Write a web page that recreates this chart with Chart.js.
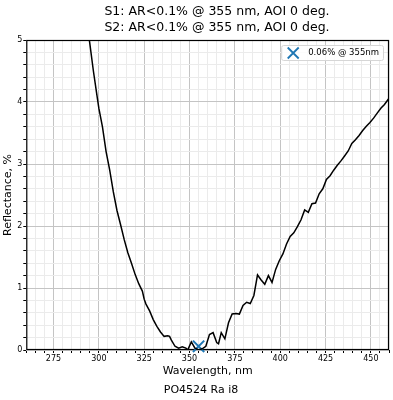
<!DOCTYPE html>
<html>
<head>
<meta charset="utf-8">
<script src="https://cdn.jsdelivr.net/npm/chart.js@4"></script>
<style>
    html, body { margin: 0; padding: 0; background: #fff; overflow: hidden; }
    canvas { display: block; }
</style>
</head>
<body>
<!-- a little wider than the window so the plot reaches the right edge like the original -->
<canvas id="chart" width="399" height="400"></canvas>
<script>
// Chart data
const wavelengths = [
    290, 293, 295, 297, 299, 300, 302, 304, 306, 308, 310, 312, 314, 316, 318, 320, 322, 324, 325, 326,
    328, 330, 332, 334, 336, 338, 339, 340, 342, 344, 346, 348, 349, 351, 353, 355, 357, 359, 361, 363,
    365, 366, 367.5, 369.5, 371.5, 373.5, 375.5, 377.5, 379.5, 381.5, 383.5, 385.5, 387.5, 389.5, 391.5, 393.5, 395.5, 397.5, 399.5, 401.5,
    403.5, 405.5, 407.5, 409.5, 411.5, 413.5, 415.5, 417.5, 419.5, 421.5, 423.5, 425.5, 427.5, 429.5, 431.5, 433.5, 435.5, 437.5, 439.5, 441.5,
    443.5, 445.5, 447.5, 449.5, 451.5, 453.5, 455.5, 457.5, 459.5, 461
];
const reflectance = [
    6.3, 5.35, 4.95, 4.5, 4.1, 3.9, 3.6, 3.2, 2.9, 2.55, 2.25, 2.02, 1.78, 1.57, 1.4, 1.22, 1.07, 0.95, 0.82, 0.74,
    0.63, 0.49, 0.38, 0.29, 0.22, 0.23, 0.22, 0.16, 0.06, 0.03, 0.05, 0.03, 0.0, 0.13, 0.03, 0.0, 0.02, 0.06, 0.25, 0.28,
    0.12, 0.1, 0.28, 0.18, 0.44, 0.58, 0.59, 0.58, 0.72, 0.77, 0.75, 0.88, 1.21, 1.13, 1.06, 1.2, 1.09, 1.3, 1.44, 1.55,
    1.71, 1.83, 1.89, 1.99, 2.1, 2.26, 2.22, 2.36, 2.37, 2.52, 2.6, 2.75, 2.81, 2.9, 2.98, 3.05, 3.13, 3.21, 3.33, 3.39,
    3.46, 3.54, 3.61, 3.67, 3.74, 3.82, 3.9, 3.96, 4.04, 4.1
];
const markerWavelength = [355];
const markerValue = [0.06];
const xLabelTicks = [275, 300, 325, 350, 375, 400, 425, 450];
const yLabelTicks = [0, 1, 2, 3, 4, 5];

const titleLines = ["S1: AR<0.1% @ 355 nm, AOI 0 deg.", "S2: AR<0.1% @ 355 nm, AOI 0 deg."];
const legendText = "0.06% @ 355nm";
const FONT = "DejaVu Sans";
const BLUE = "#1f77b4";
const MAJOR_GRID = "#c4c4c4";
const MINOR_GRID = "#ebebeb";

function isLabelTick(list, v) {
    return list.some(t => Math.abs(t - v) < 1e-6);
}

// Two line title (sits a bit right of the canvas centre, like the original figure)
const titlePlugin = {
    id: "topTitle",
    afterDraw(chart) {
        const { ctx } = chart;
        ctx.save();
        ctx.font = "12.5px '" + FONT + "'";
        ctx.fillStyle = "#000";
        ctx.textAlign = "center";
        ctx.textBaseline = "middle";
        titleLines.forEach((line, i) => ctx.fillText(line, 217, 12 + i * 16));
        ctx.restore();
    }
};

// Frame round the plot and the legend box in the top right corner
const framePlugin = {
    id: "frame",
    beforeDatasetsDraw(chart) {
        const { ctx, chartArea: a } = chart;
        ctx.save();
        ctx.strokeStyle = "#000";
        ctx.lineWidth = 1.2;
        ctx.strokeRect(a.left + 0.5, a.top + 0.5, a.right - a.left - 1, a.bottom - a.top - 1);
        ctx.restore();
    },
    afterDraw(chart) {
        const { ctx, chartArea: a } = chart;
        ctx.save();
        ctx.font = "8.5px '" + FONT + "'";
        const tw = ctx.measureText(legendText).width;
        const h = 15;
        const right = a.right - 6;
        const top = a.top + 5;
        const left = right - tw - 31;
        ctx.fillStyle = "rgba(255,255,255,0.85)";
        ctx.strokeStyle = "#d6d6d6";
        ctx.lineWidth = 1;
        ctx.beginPath();
        ctx.roundRect(left + 0.5, top + 0.5, right - left, h, 2);
        ctx.fill();
        ctx.stroke();
        const cx = left + 12, cy = top + h / 2 + 0.5, r = 5.5;
        ctx.strokeStyle = BLUE;
        ctx.lineWidth = 1.8;
        ctx.beginPath();
        ctx.moveTo(cx - r, cy - r); ctx.lineTo(cx + r, cy + r);
        ctx.moveTo(cx - r, cy + r); ctx.lineTo(cx + r, cy - r);
        ctx.stroke();
        ctx.fillStyle = "#000";
        ctx.textBaseline = "middle";
        ctx.fillText(legendText, left + 27, cy);
        ctx.restore();
    }
};

const curve = wavelengths.map((w, i) => ({ x: w, y: reflectance[i] }));
const marker = markerWavelength.map((w, i) => ({ x: w, y: markerValue[i] }));

new Chart(document.getElementById("chart"), {
    type: "line",
    data: {
        datasets: [
            {
                label: "curve",
                data: curve,
                borderColor: "#000",
                borderWidth: 1.5,
                pointRadius: 0,
                tension: 0
            },
            {
                type: "scatter",
                label: legendText,
                data: marker,
                pointStyle: "crossRot",
                pointRadius: 8,
                borderColor: BLUE,
                backgroundColor: BLUE,
                borderWidth: 2,
                clip: false
            }
        ]
    },
    options: {
        responsive: false,
        devicePixelRatio: 1,
        animation: false,
        layout: { padding: { left: 2, right: -1, top: 40, bottom: 3 } },
        plugins: {
            legend: { display: false },
            tooltip: { enabled: false },
            title: { display: false },
            subtitle: {
                display: true,
                position: "bottom",
                text: "PO4524 Ra i8",
                color: "#000",
                font: { family: FONT, size: 11, weight: "normal" },
                padding: { top: 6, bottom: 0 }
            }
        },
        scales: {
            x: {
                type: "linear",
                min: 260,
                max: 460,
                border: { display: false },
                afterFit: scale => { scale.paddingLeft = 0; scale.paddingRight = 0; },
                grid: {
                    color: c => (c.tick && c.tick.value % 25 === 0 ? MAJOR_GRID : MINOR_GRID),
                    tickColor: "#000",
                    tickLength: 3
                },
                ticks: {
                    stepSize: 5,
                    autoSkip: false,
                    maxRotation: 0,
                    align: "inner",
                    padding: 1,
                    color: "#000",
                    font: { family: FONT, size: 8 },
                    callback: v => (isLabelTick(xLabelTicks, v) ? String(v) : "")
                },
                title: {
                    display: true,
                    text: "Wavelength, nm",
                    color: "#000",
                    font: { family: FONT, size: 11 },
                    padding: { top: 0, bottom: 0 }
                }
            },
            y: {
                min: 0,
                max: 5,
                border: { display: false },
                grid: {
                    color: c => (c.tick && isLabelTick(yLabelTicks, c.tick.value) ? MAJOR_GRID : MINOR_GRID),
                    tickColor: "#000",
                    tickLength: 3
                },
                ticks: {
                    stepSize: 0.2,
                    autoSkip: false,
                    padding: 1,
                    color: "#000",
                    font: { family: FONT, size: 8 },
                    callback: v => (isLabelTick(yLabelTicks, v) ? String(Math.round(v)) : "")
                },
                title: {
                    display: true,
                    text: "Reflectance, %",
                    color: "#000",
                    font: { family: FONT, size: 11 },
                    padding: { top: 0, bottom: 1 }
                }
            }
        }
    },
    plugins: [titlePlugin, framePlugin]
});
</script>
</body>
</html>
